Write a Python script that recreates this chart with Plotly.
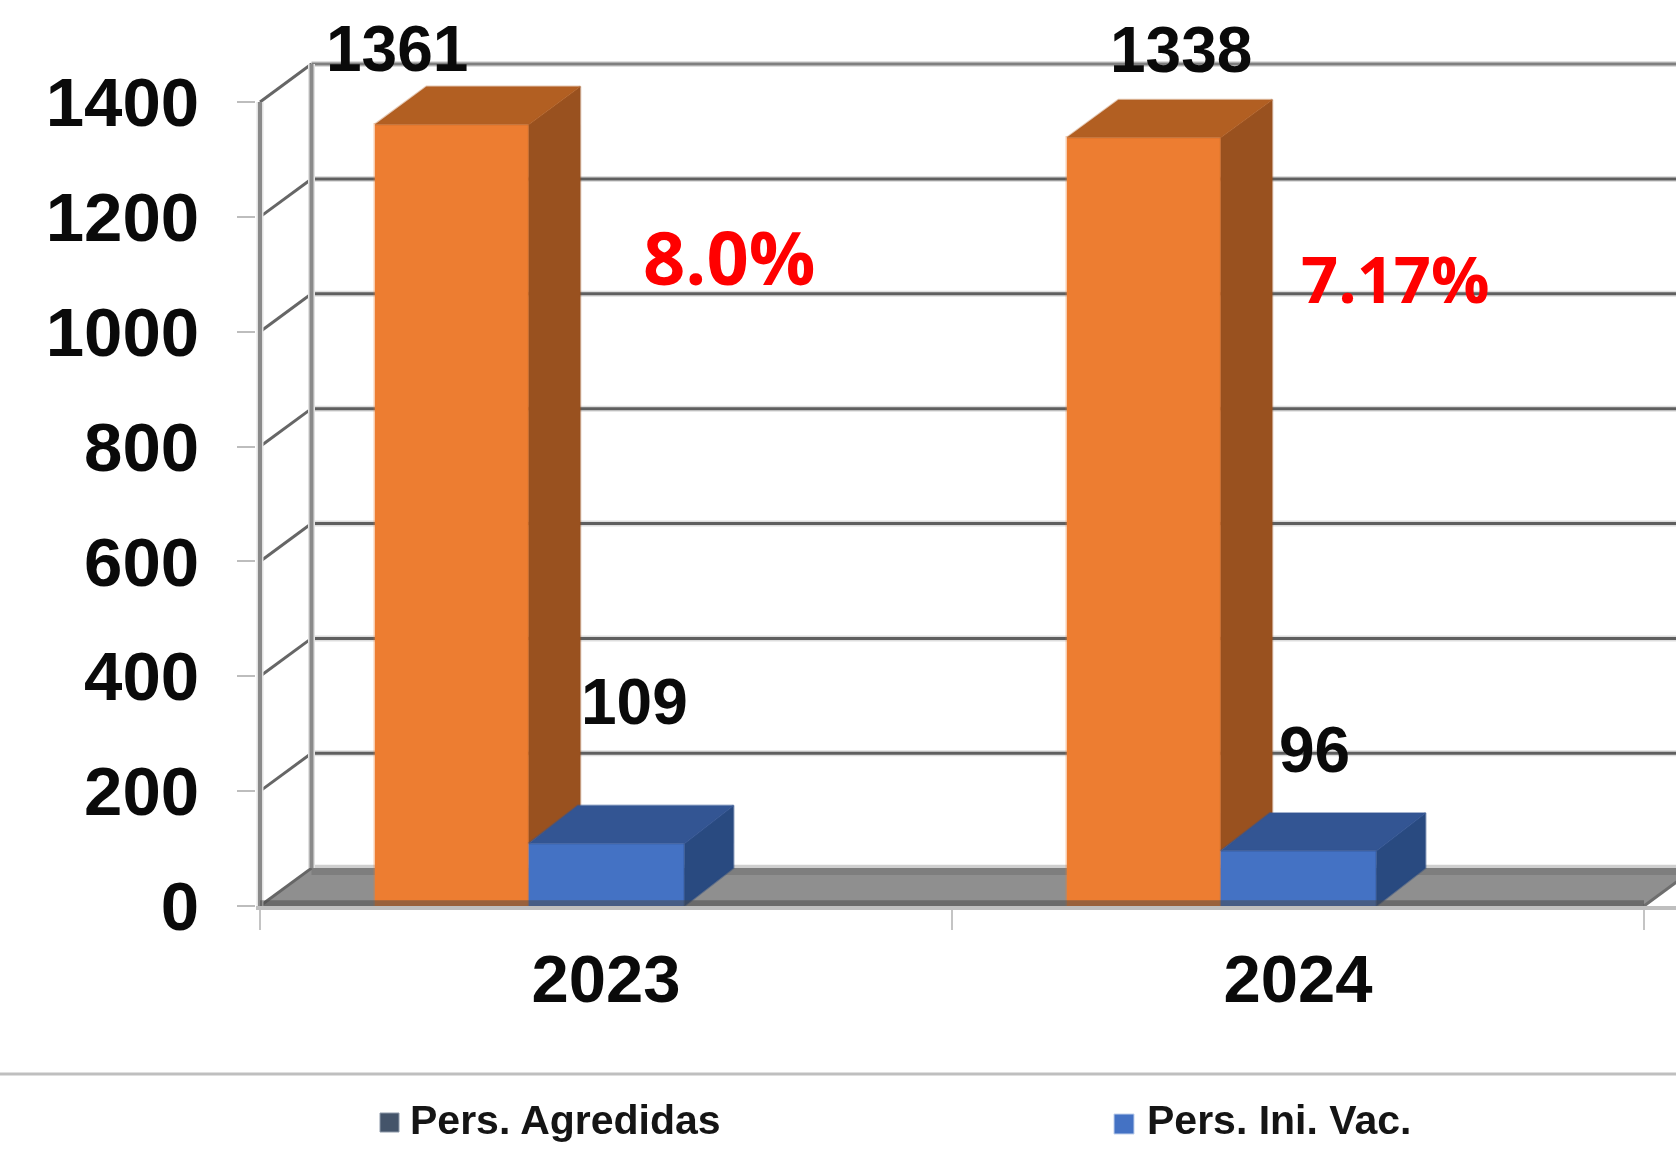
import plotly.graph_objects as go

# ---- data ----
categories = ["2023", "2024"]
agredidas = [1361, 1338]
ini_vac = [109, 96]
ratio_labels = ["8.0%", "7.17%"]
y_ticks = [0, 200, 400, 600, 800, 1000, 1200, 1400]
series_names = ["Pers. Agredidas", "Pers. Ini. Vac."]

# ---- canvas / scales ----
W, H = 1676, 1162
PL, PB = 256, 906            # plot left, plot bottom (pixels)
X_UNIT, Y_UNIT = 692.0, 0.5743   # px per category, px per value
x_lo = -0.5 - 4 / X_UNIT
x_hi = x_lo + (W - PL) / X_UNIT
y_hi = PB / Y_UNIT
DX, DY = 51.5 / X_UNIT, 66.0     # depth of the 3D box, in data units
BL_DX = 49.0 / X_UNIT
xs = list(range(len(categories)))

def px(p):
    return (p - PL) / (W - PL)

def py(p):
    return (PB - p) / PB

OR_OFF, OR_W = -0.3340, 0.2225
BL_OFF, BL_W = OR_OFF + OR_W, 0.2250
OR_FRONT, OR_TOP, OR_SIDE = "#ED7D31", "#B25F22", "#99511F"
BL_FRONT, BL_TOP, BL_SIDE = "#4472C4", "#335593", "#294A80"
BLACK = "#0a0a0a"

fig = go.Figure()

# front faces of the boxes
fig.add_bar(x=xs, y=agredidas, offset=OR_OFF, width=OR_W, name=series_names[0],
            marker=dict(color=OR_FRONT, line=dict(color="rgba(237,125,49,0.3)", width=3)),
            showlegend=False, hoverinfo="x+y")
fig.add_bar(x=xs, y=ini_vac, offset=BL_OFF, width=BL_W, name=series_names[1],
            marker=dict(color=BL_FRONT, line=dict(color="rgba(68,114,196,0.3)", width=2)),
            showlegend=False, hoverinfo="x+y")

def face(xv, yv, color, halo):
    fig.add_trace(go.Scatter(x=xv, y=yv, mode="lines", fill="toself", fillcolor=color,
                             line=dict(color=halo, width=2), showlegend=False, hoverinfo="skip"))

# orange top + visible part of the side, then blue top + side
for x0, a, b in zip(xs, agredidas, ini_vac):
    l, r = x0 + OR_OFF, x0 + OR_OFF + OR_W
    face([r, r + DX, r + DX, r, r], [b, b + DY, a + DY, a, b], OR_SIDE, "rgba(153,81,31,0.35)")
    face([l, l + DX, r + DX, r, l], [a, a + DY, a + DY, a, a], OR_TOP, "rgba(178,95,34,0.35)")
for x0, b in zip(xs, ini_vac):
    l, r = x0 + BL_OFF, x0 + BL_OFF + BL_W
    face([r, r + BL_DX, r + BL_DX, r, r], [0, DY, b + DY, b, 0], BL_SIDE, "rgba(41,74,128,0.45)")
    face([l, l + BL_DX, r + BL_DX, r, l], [b, b + DY, b + DY, b, b], BL_TOP, "rgba(51,85,147,0.45)")

shapes = []
wall_l = -0.5
wall_b = wall_l + DX
right_end = x_hi + 0.1

# floor
shapes.append(dict(type="path", layer="below", xref="x", yref="y", fillcolor="#8F8F8F", line_width=0,
                   path=f"M {wall_l} 0 L {1.5} 0 L {1.5 + DX} {DY} L {wall_b} {DY} Z"))
shapes.append(dict(type="rect", layer="below", xref="x", yref="y", fillcolor="#7E7E7E", line_width=0,
                   x0=wall_b, x1=right_end, y0=DY - 12, y1=DY))
shapes.append(dict(type="rect", layer="below", xref="x", yref="y", fillcolor="#cfcfcf", line_width=0,
                   x0=wall_b, x1=right_end, y0=DY, y1=DY + 6))

# back grid lines and wall diagonals
for t in y_ticks:
    if t > 0:
        shapes.append(dict(type="line", layer="below", xref="x", yref="y", x0=wall_b, x1=right_end,
                           y0=t + DY, y1=t + DY, line=dict(color="#DEDEDE", width=6)))
        shapes.append(dict(type="line", layer="below", xref="x", yref="y", x0=wall_b, x1=right_end,
                           y0=t + DY, y1=t + DY,
                           line=dict(color="#7F7F7F" if t == 1400 else "#5F5F5F", width=3)))
    shapes.append(dict(type="line", layer="below", xref="x", yref="y", x0=wall_l, x1=wall_b,
                       y0=t, y1=t + DY, line=dict(color="#666666", width=3)))
# right wall stub
shapes.append(dict(type="line", layer="below", xref="x", yref="y", x0=1.5, x1=1.5 + DX,
                   y0=0, y1=DY, line=dict(color="#6E6E6E", width=3)))
# wall verticals
for xv, yb in ((wall_l, 0), (wall_b, DY)):
    shapes.append(dict(type="line", layer="below", xref="x", yref="y", x0=xv, x1=xv,
                       y0=yb, y1=1400 + yb, line=dict(color="#E2E2E2", width=7)))
    shapes.append(dict(type="line", layer="below", xref="x", yref="y", x0=xv, x1=xv,
                       y0=yb, y1=1400 + yb, line=dict(color="#8A8A8A", width=4)))
# dark band along the front of the floor (over the bar feet)
shapes.append(dict(type="rect", layer="above", xref="x", yref="y", fillcolor="rgba(70,70,70,0.5)", line_width=0,
                   x0=wall_l, x1=1.5, y0=0, y1=10))

# legend separator and swatches
shapes.append(dict(type="line", xref="paper", yref="paper", x0=px(0), x1=px(W), y0=py(1074), y1=py(1074),
                   line=dict(color="#BFBFBF", width=3)))
shapes.append(dict(type="rect", xref="paper", yref="paper", x0=px(380), x1=px(399), y0=py(1132), y1=py(1113),
                   fillcolor="#44546A", line=dict(color="#8c98a8", width=1)))
shapes.append(dict(type="rect", xref="paper", yref="paper", x0=px(1114), x1=px(1134), y0=py(1134), y1=py(1114),
                   fillcolor="#4472C4", line=dict(color="#c0d0ec", width=1)))

# ---- text ----
ann = []
def text(s, cx, cy, size, color=BLACK, family="Liberation Sans, Arial, sans-serif"):
    ann.append(dict(text=f"<b>{s}</b>", x=px(cx), y=py(cy), xref="paper", yref="paper",
                    xanchor="center", yanchor="middle", showarrow=False,
                    font=dict(family=family, size=size, color=color)))

LABEL_SIZE = 64
text(str(agredidas[0]), 397, 49, LABEL_SIZE)
text(str(agredidas[1]), 1181, 50, LABEL_SIZE)
text(str(ini_vac[0]), 634, 702, LABEL_SIZE)
text(str(ini_vac[1]), 1314, 750, LABEL_SIZE)
text(ratio_labels[0], 729, 256, 74, "#FF0000", "Open Sans, sans-serif")
text(ratio_labels[1], 1395, 278, 65, "#FF0000", "Open Sans, sans-serif")
text(series_names[0], 565, 1120, 41, "#151515")
text(series_names[1], 1279, 1120, 41, "#151515")

fig.update_layout(
    width=W, height=H, autosize=False,
    margin=dict(l=PL, r=0, t=0, b=H - PB, pad=0),
    paper_bgcolor="white", plot_bgcolor="white",
    barmode="overlay", showlegend=False,
    shapes=shapes, annotations=ann,
    font=dict(family="Liberation Sans, Arial, sans-serif", color=BLACK),
    xaxis=dict(range=[x_lo, x_hi], tickmode="array", tickvals=xs,
               ticktext=[f"<b>{c}</b>" for c in categories],
               ticks="", ticklabelstandoff=12, showgrid=False, zeroline=False,
               showline=True, linecolor="#BFBFBF", linewidth=4,
               tickfont=dict(size=67, color=BLACK),
               minor=dict(tickmode="array", tickvals=[-0.5, 0.5, 1.5], ticks="outside",
                          ticklen=20, tickwidth=2, tickcolor="#C4C4C4", showgrid=False)),
    yaxis=dict(range=[0, y_hi], tickmode="array", tickvals=y_ticks,
               ticktext=[f"<b>{t}</b>" for t in y_ticks],
               ticks="outside", ticklen=18, tickwidth=2, tickcolor="#BDBDBD",
               ticklabelstandoff=24, showgrid=False, zeroline=False, showline=False,
               tickfont=dict(size=69, color=BLACK)),
)

fig.write_html(
    "out.html",
    config={"displayModeBar": False},
    post_script="document.body.style.margin='0';"
                "document.querySelectorAll('.plot-container').forEach(function(e){e.style.filter='blur(0.7px)';});",
)
